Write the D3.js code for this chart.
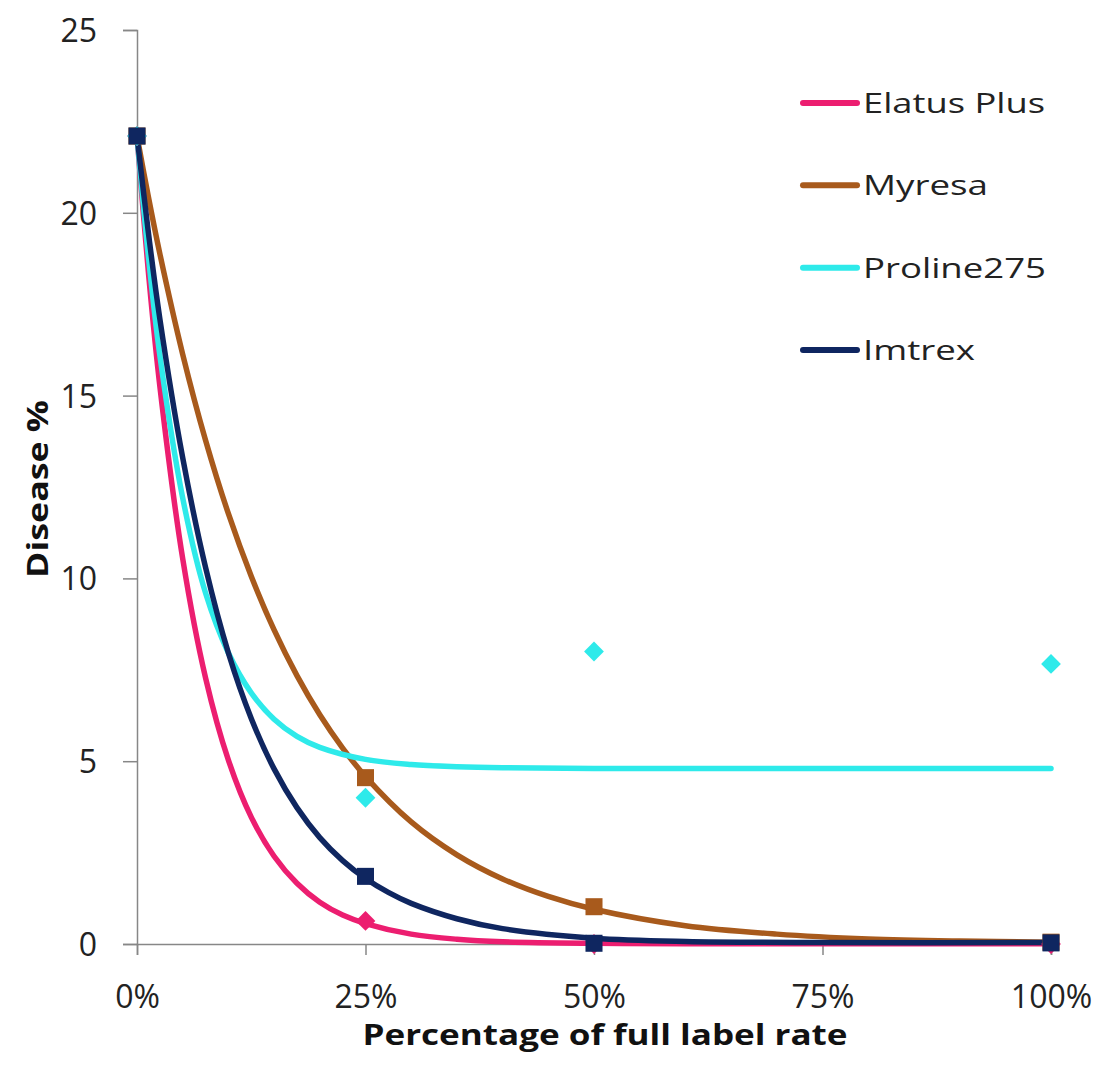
<!DOCTYPE html>
<html><head><meta charset="utf-8">
<script src="https://cdn.jsdelivr.net/npm/d3@7/dist/d3.min.js"></script>
<style>body{margin:0;background:#fff}svg{display:block}</style>
</head><body>
<svg id="c" width="1102" height="1081"></svg>
<script>
// ---- data ----
const seriesNames = ["Elatus Plus", "Myresa", "Proline275", "Imtrex"];
const xTicks = [0, 25, 50, 75, 100];
const yTicks = [0, 5, 10, 15, 20, 25];
// observed points [rate %, disease %]
const elatusPts  = [[0,22.1],[25,0.63],[50,0],[100,0]];
const myresaPts  = [[0,22.1],[25,4.55],[50,1.02],[100,0.05]];
const prolinePts = [[0,22.1],[25,4.0],[50,8.0],[100,7.66]];
const imtrexPts  = [[0,22.1],[25,1.85],[50,0.02],[100,0.03]];
// trend lines [rate %, disease %]
const elatusTrend  = [[0,22.1],[1.25,18.37],[2.5,15.26],[5,10.54],[7.5,7.28],[10,5.03],[12.5,3.47],[15,2.4],[17.5,1.66],[20,1.14],[22.5,0.79],[25,0.56],[30,0.27],[35,0.13],[40,0.06],[50,0.02],[60,0.01],[100,0.01]];
const myresaTrend  = [[0,22.1],[1.25,20.43],[2.5,18.88],[5,16.13],[7.5,13.78],[10,11.77],[12.5,10.06],[15,8.59],[17.5,7.34],[20,6.27],[22.5,5.36],[25,4.58],[30,3.34],[35,2.44],[40,1.78],[45,1.3],[50,0.95],[60,0.5],[70,0.27],[80,0.14],[90,0.08],[100,0.05]];
const prolineTrend = [[0,22.1],[1.25,18.8],[2.5,16.1],[5,12.2],[7.5,9.6],[10,7.96],[12.5,6.87],[15,6.15],[17.5,5.68],[20,5.38],[25,5.05],[30,4.91],[35,4.85],[40,4.82],[50,4.8],[75,4.8],[100,4.8]];
const imtrexTrend  = [[0,22.1],[1.25,19.45],[2.5,17.1],[5,13.3],[7.5,10.3],[10,7.96],[12.5,6.17],[15,4.79],[17.5,3.73],[20,2.91],[22.5,2.28],[25,1.79],[27.5,1.41],[30,1.11],[35,0.69],[40,0.42],[50,0.16],[60,0.07],[75,0.04],[100,0.04]];

const colors = ["#EC1E70", "#A85A1C", "#2EEAEA", "#0F2660"];
const symbols = ["diamond", "square", "diamond", "square"];
const pts = [elatusPts, myresaPts, prolinePts, imtrexPts];
const trends = [elatusTrend, myresaTrend, prolineTrend, imtrexTrend];

const svg = d3.select("#c");
const x = d3.scaleLinear().domain([0, 100]).range([137, 1051]);
const y = d3.scaleLinear().domain([0, 25]).range([944, 30]);
const axisColor = "#878787";
const font = "'Open Sans', 'Liberation Sans', sans-serif";

// axes
const gy = svg.append("g").attr("transform", "translate(137,0)")
  .call(d3.axisLeft(y).tickValues(yTicks).tickSize(14).tickPadding(26).tickFormat(d3.format("d")));
const gx = svg.append("g").attr("transform", "translate(0,944)")
  .call(d3.axisBottom(x).tickValues(xTicks).tickSize(11).tickPadding(30).tickFormat(d => d + "%"));
[gx, gy].forEach(g => {
  g.select(".domain").attr("stroke", axisColor).attr("stroke-width", 1.5);
  g.selectAll(".tick line").attr("stroke", axisColor).attr("stroke-width", 1.5);
  g.selectAll(".tick text").attr("fill", "#222").style("font-family", font).style("font-size", "32px");
});
gy.selectAll(".tick text").attr("dy", "0.36em");
gx.selectAll(".tick text").attr("dy", "0.72em");

// trend lines
const line = d3.line().x(d => x(d[0])).y(d => y(d[1])).curve(d3.curveCatmullRom.alpha(0.5));
trends.forEach((t, i) => {
  svg.append("path").datum(t).attr("d", line).attr("fill", "none")
    .attr("stroke", colors[i]).attr("stroke-width", 5.5).attr("stroke-linecap", "round");
});

// markers
pts.forEach((p, i) => {
  const sym = symbols[i] === "square" ? d3.symbolSquare : d3.symbolDiamond2;
  const size = symbols[i] === "square" ? 290 : 250;
  svg.append("g").selectAll("path").data(p).join("path")
    .attr("d", d3.symbol().type(sym).size(size))
    .attr("transform", d => `translate(${x(d[0])},${y(d[1])})`)
    .attr("fill", colors[i]);
});

// legend
const legendY = d3.scalePoint().domain(seriesNames).range([103, 350]);
const legendW = [182, 125, 183, 112];
const lg = svg.append("g");
seriesNames.forEach((n, i) => {
  const yy = legendY(n);
  lg.append("line").attr("x1", 803).attr("x2", 857).attr("y1", yy).attr("y2", yy)
    .attr("stroke", colors[i]).attr("stroke-width", 6).attr("stroke-linecap", "round");
  lg.append("text").attr("x", 863).attr("y", yy + 10).text(n)
    .attr("textLength", legendW[i]).attr("lengthAdjust", "spacingAndGlyphs")
    .style("font-family", font).style("font-size", "28px").attr("fill", "#222");
});

// axis titles
svg.append("text").attr("x", 605).attr("y", 1045).attr("text-anchor", "middle")
  .text("Percentage of full label rate")
  .attr("textLength", 485).attr("lengthAdjust", "spacingAndGlyphs")
  .style("font-family", font).style("font-size", "28px").style("font-weight", "bold").attr("fill", "#111");
svg.append("text").attr("transform", "translate(48,489) rotate(-90)").attr("text-anchor", "middle")
  .text("Disease %")
  .attr("textLength", 178).attr("lengthAdjust", "spacingAndGlyphs")
  .style("font-family", font).style("font-size", "28px").style("font-weight", "bold").attr("fill", "#111");
</script>
</body></html>
